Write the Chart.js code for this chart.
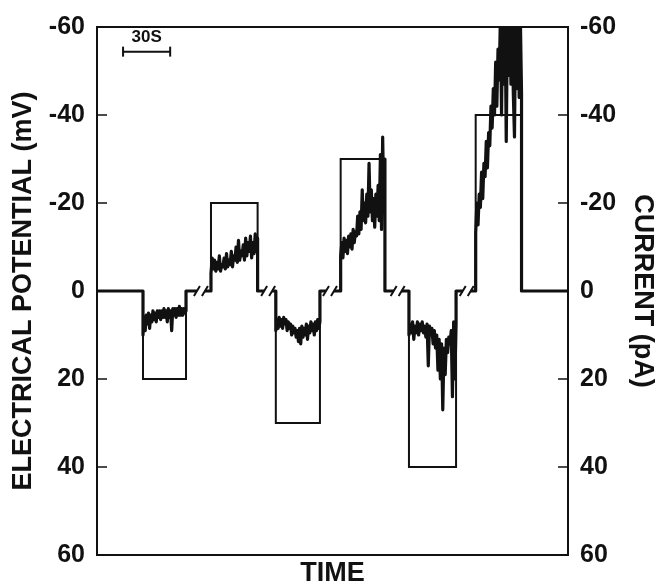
<!DOCTYPE html>
<html><head><meta charset="utf-8">
<script src="https://cdn.jsdelivr.net/npm/chart.js@4/dist/chart.umd.min.js"></script>
<style>html,body{margin:0;padding:0;background:#fff}</style>
</head><body>
<canvas id="c" width="660" height="585" style="display:block"></canvas>
<script>
// ---- data (time in s, potential in mV, current in pA; axes reversed: negative up) ----
const yTicks = [-60, -40, -20, 0, 20, 40, 60];
const timeRange = [0, 300];
const pulseStart = [29.3, 72.6, 113.9, 155.2, 198.7, 241.2];
const pulseEnd   = [56.7, 102.3, 142.0, 183.4, 228.7, 270.4];
const pulseCurrent = [20, -20, 30, -30, 40, -40];
const potential1 = [10, 6, 9, 5.5, 7.5, 5, 8.5, 5.5, 7, 4.5, 6.5, 5, 7, 4.5, 6, 4.5, 6.5, 4.5, 6, 4, 6, 4.5, 7, 4, 6, 4.5, 9, 4, 5.5, 4, 6, 4, 5.5, 3.5, 5.5, 4, 5.5, 4, 5, 4.5];
const potential2 = [-4, -7.5, -5, -7, -4.5, -6.5, -5, -8, -4.5, -6, -5.5, -7.5, -5, -8.5, -5.5, -7, -6, -9, -5.5, -8, -7, -10, -6.5, -11.5, -7, -9, -8, -10.5, -7, -12, -8, -11, -9, -12.5, -7.5, -11, -8.5, -13, -9, -12];
const potential3 = [9, 6.5, 8.5, 6, 8, 6.5, 8.5, 6, 7.5, 6.5, 9, 7, 8.5, 7.5, 10, 8, 9.5, 8.5, 10.5, 9, 11.5, 8.5, 12, 8, 10.5, 8.5, 10, 7.5, 11, 8, 9.5, 7, 9, 7.5, 10, 7, 9, 6.5, 8.5, 7];
const potential4 = [-8, -11, -7.5, -12, -9, -11.5, -8.5, -12.5, -10, -13, -9.5, -14, -11, -13.5, -12.5, -17, -13, -18, -14, -23, -16, -20, -15.5, -22, -17, -29, -18, -23, -16, -21, -14.5, -22, -17, -24, -16, -31, -14, -35, -20, -30];
const potential5 = [10, 7.5, 9.5, 7, 11, 8, 9.5, 7, 10, 7.5, 9, 7, 9.5, 8, 10.5, 7.5, 17, 8, 10, 8.5, 12, 9, 13, 10, 18, 11, 20, 12, 27, 13, 19, 11, 14, 10.5, 12, 9, 24, 7, 20, 7.5];
const potential6 = [-13, -20, -15, -22, -19, -27, -21, -29, -26, -34, -28, -36, -33, -42, -37, -46, -40, -52, -42, -55, -48, -62, -40, -65, -47, -64, -34, -62, -49, -66, -47, -64, -45, -35, -63, -46, -66, -44, -62, -45];
const breakTimes = [66.2, 109.0, 148.4, 191.5, 235.5];
const scaleBarTimes = [16.6, 46.6];
const scaleBarLevel = -54.4;
const scaleBarLabel = '30S';

// ---- build datasets ----
const potentials = [potential1, potential2, potential3, potential4, potential5, potential6];
const currentData = [{x: timeRange[0], y: 0}];
const potentialData = [{x: timeRange[0], y: 0}];
pulseStart.forEach((s, i) => {
  const e = pulseEnd[i];
  currentData.push({x: s, y: 0}, {x: s, y: pulseCurrent[i]}, {x: e, y: pulseCurrent[i]}, {x: e, y: 0});
  potentialData.push({x: s, y: 0});
  const v = potentials[i];
  v.forEach((val, k) => potentialData.push({x: s + (e - s) * k / (v.length - 1), y: val}));
  potentialData.push({x: e, y: 0});
});
currentData.push({x: timeRange[1], y: 0});
potentialData.push({x: timeRange[1], y: 0});

const INK = '#111';
const FONT = "'Liberation Sans', Arial, sans-serif";

const decor = {
  id: 'decor',
  afterDatasetsDraw(chart) {
    const {ctx, chartArea: a, scales} = chart;
    const xs = scales.x, ys = scales.y;
    ctx.save();
    // breaks on the baseline
    const y0 = ys.getPixelForValue(0);
    breakTimes.forEach(t => {
      const X = xs.getPixelForValue(t);
      ctx.fillStyle = '#fff';
      ctx.fillRect(X - 4, y0 - 3, 8, 6);
      ctx.strokeStyle = INK; ctx.lineWidth = 2;
      ctx.beginPath();
      ctx.moveTo(X - 7, y0 + 5); ctx.lineTo(X - 1, y0 - 5);
      ctx.moveTo(X + 1, y0 + 5); ctx.lineTo(X + 7, y0 - 5);
      ctx.stroke();
    });
    // frame
    ctx.strokeStyle = INK; ctx.lineWidth = 2;
    ctx.strokeRect(a.left, a.top, a.right - a.left, a.bottom - a.top);
    // inward ticks
    ctx.lineWidth = 1.6;
    ctx.beginPath();
    yTicks.forEach(v => {
      const Y = ys.getPixelForValue(v);
      ctx.moveTo(a.left, Y); ctx.lineTo(a.left + 10, Y);
      ctx.moveTo(a.right, Y); ctx.lineTo(a.right - 10, Y);
    });
    ctx.stroke();
    // scale bar label
    const cx = (xs.getPixelForValue(scaleBarTimes[0]) + xs.getPixelForValue(scaleBarTimes[1])) / 2;
    const by = ys.getPixelForValue(scaleBarLevel);
    ctx.fillStyle = INK;
    ctx.font = "bold 17px " + FONT;
    ctx.textAlign = 'center'; ctx.textBaseline = 'bottom';
    ctx.fillText(scaleBarLabel, cx, by - 6);
    ctx.restore();
  }
};

const tickFont = {family: FONT, size: 25, weight: 'bold'};
const titleFont = {family: FONT, size: 27, weight: 'bold', lineHeight: 1};

new Chart(document.getElementById('c'), {
  type: 'line',
  data: {
    datasets: [
      {data: currentData, yAxisID: 'y2', borderColor: INK, borderWidth: 2, pointRadius: 0, tension: 0, fill: false},
      {data: potentialData, yAxisID: 'y', borderColor: INK, borderWidth: 3.2, pointRadius: 0, tension: 0, fill: false, borderJoinStyle: 'round'},
      {data: scaleBarTimes.map(t => ({x: t, y: scaleBarLevel})), yAxisID: 'y', borderColor: INK, borderWidth: 2,
       pointStyle: 'line', rotation: 90, pointRadius: 5, pointBorderWidth: 2, pointBorderColor: INK, fill: false}
    ]
  },
  options: {
    responsive: false, animation: false, devicePixelRatio: 1,
    layout: {padding: {top: 24, left: 0, right: 0, bottom: 0}},
    plugins: {legend: {display: false}, tooltip: {enabled: false}},
    scales: {
      x: {
        type: 'linear', min: timeRange[0], max: timeRange[1],
        grid: {display: false, drawTicks: false}, border: {display: false},
        ticks: {display: false},
        title: {display: true, text: 'TIME', color: INK, font: titleFont, padding: {top: 0, bottom: -2}},
        afterFit(s) { s.height = 30; }
      },
      y: {
        type: 'linear', position: 'left', reverse: true, min: -60, max: 60,
        grid: {display: false, drawTicks: false}, border: {display: false},
        afterBuildTicks(s) { s.ticks = yTicks.map(v => ({value: v})); },
        ticks: {color: INK, font: tickFont, padding: 12},
        title: {display: true, text: 'ELECTRICAL POTENTIAL (mV)', color: INK, font: titleFont, padding: {top: 10, bottom: 0}},
        afterFit(s) { s.width = 97; }
      },
      y2: {
        type: 'linear', position: 'right', reverse: true, min: -60, max: 60,
        grid: {display: false, drawTicks: false}, border: {display: false},
        afterBuildTicks(s) { s.ticks = yTicks.map(v => ({value: v})); },
        ticks: {color: INK, font: tickFont, padding: 12},
        title: {display: true, text: 'CURRENT (pA)', color: INK, font: titleFont, padding: {top: 4, bottom: 0}},
        afterFit(s) { s.width = 92; }
      }
    }
  },
  plugins: [decor]
});
</script>
</body></html>
